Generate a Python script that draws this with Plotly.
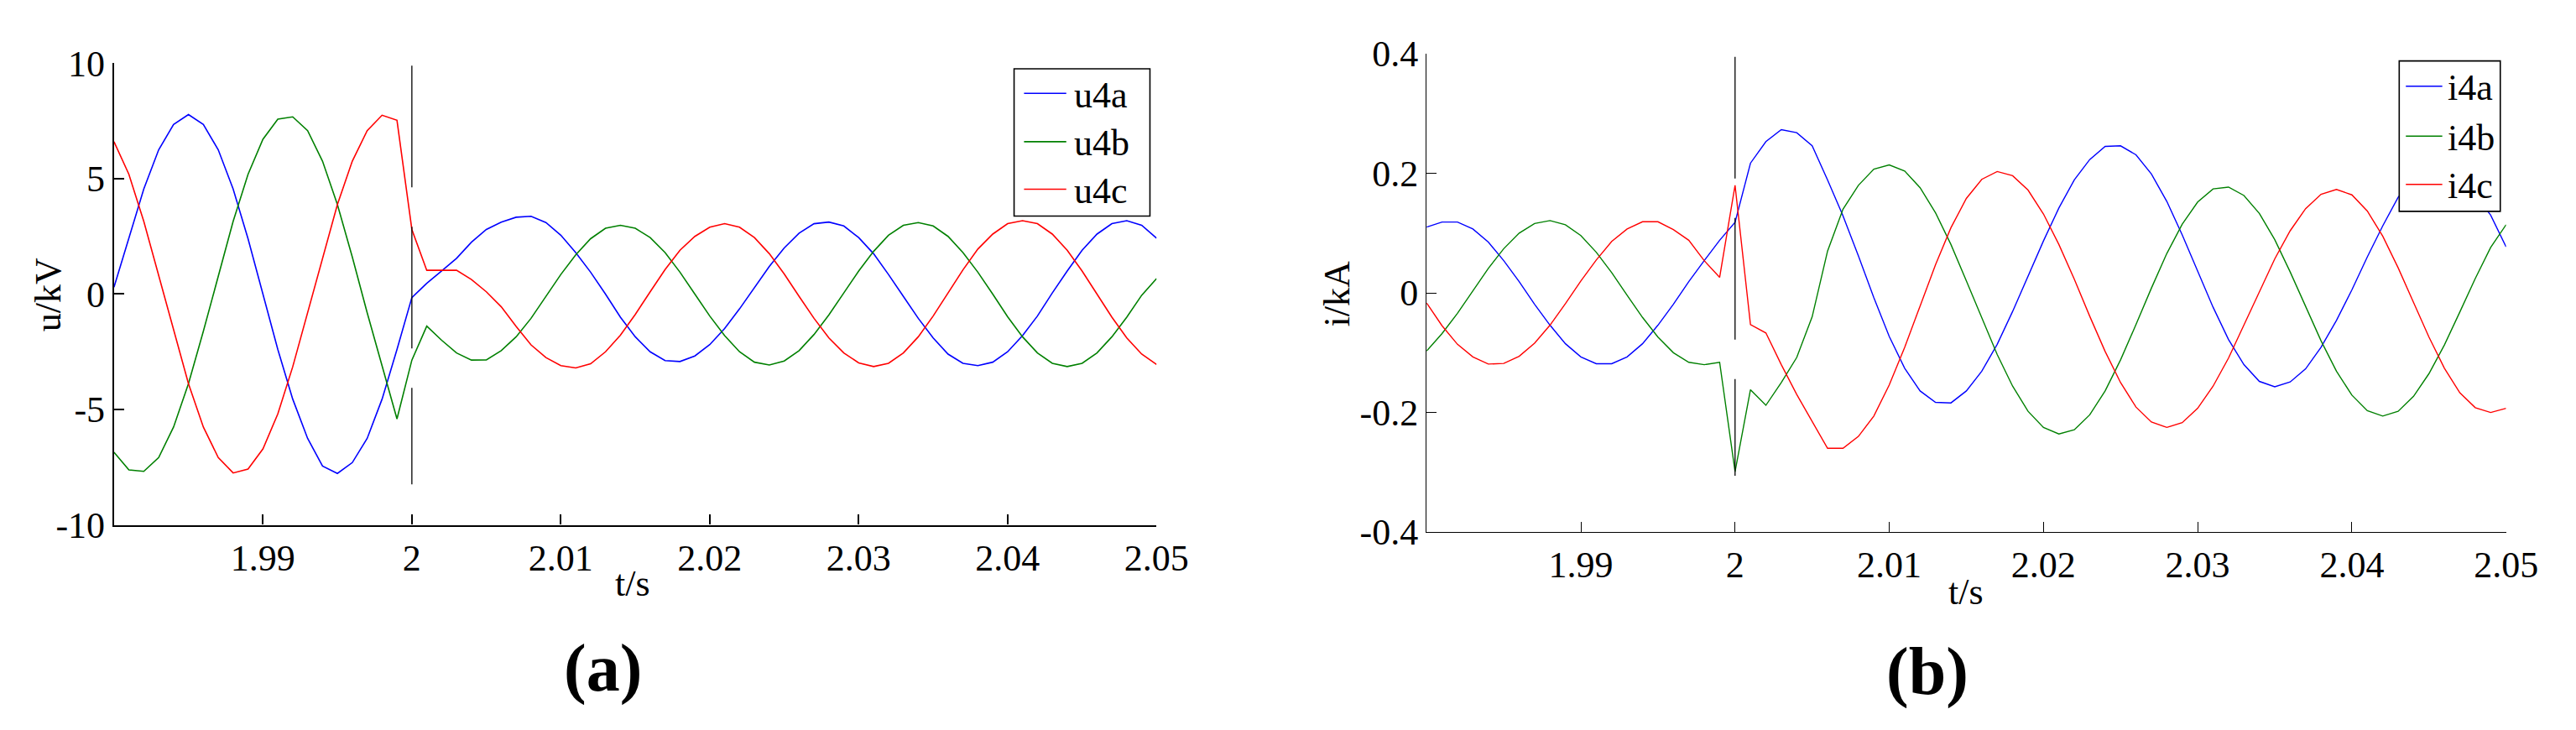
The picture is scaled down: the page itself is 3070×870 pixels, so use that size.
import plotly.graph_objects as go

# time axis, s (1 ms sampling)
t = [1.980, 1.981, 1.982, 1.983, 1.984, 1.985, 1.986, 1.987, 1.988, 1.989,
     1.990, 1.991, 1.992, 1.993, 1.994, 1.995, 1.996, 1.997, 1.998, 1.999,
     2.000, 2.001, 2.002, 2.003, 2.004, 2.005, 2.006, 2.007, 2.008, 2.009,
     2.010, 2.011, 2.012, 2.013, 2.014, 2.015, 2.016, 2.017, 2.018, 2.019,
     2.020, 2.021, 2.022, 2.023, 2.024, 2.025, 2.026, 2.027, 2.028, 2.029,
     2.030, 2.031, 2.032, 2.033, 2.034, 2.035, 2.036, 2.037, 2.038, 2.039,
     2.040, 2.041, 2.042, 2.043, 2.044, 2.045, 2.046, 2.047, 2.048, 2.049,
     2.050]

# (a) voltages, kV
u4a = [0.3, 2.45, 4.55, 6.25, 7.35, 7.78, 7.35, 6.25, 4.55, 2.4,
       0.0, -2.4, -4.55, -6.25, -7.45, -7.77, -7.3, -6.25, -4.55, -2.4,
       -0.15, 0.47, 1.0, 1.55, 2.25, 2.8, 3.12, 3.33, 3.37, 3.1,
       2.55, 1.8, 0.95, 0.0, -1.0, -1.85, -2.5, -2.88, -2.92, -2.68,
       -2.19, -1.49, -0.64, 0.29, 1.2, 2.0, 2.64, 3.05, 3.12, 2.95,
       2.45, 1.75, 0.85, -0.1, -1.05, -1.9, -2.6, -3.0, -3.1, -2.95,
       -2.5, -1.8, -0.95, 0.05, 1.0, 1.9, 2.6, 3.05, 3.18, 2.98,
       2.42]
u4b = [-6.85, -7.62, -7.68, -7.08, -5.76, -3.88, -1.61, 0.81, 3.15, 5.19,
       6.71, 7.58, 7.68, 7.08, 5.76, 3.88, 1.61, -0.81, -3.15, -5.41,
       -2.86, -1.39, -2.0, -2.55, -2.86, -2.85, -2.45, -1.85, -1.05, -0.1,
       0.85, 1.7, 2.4, 2.85, 2.98, 2.85, 2.45, 1.8, 0.95, 0.0,
       -0.95, -1.8, -2.5, -2.95, -3.07, -2.9, -2.45, -1.75, -0.9, 0.05,
       1.0, 1.85, 2.55, 2.98, 3.1, 2.95, 2.5, 1.8, 0.95, 0.0,
       -0.98, -1.85, -2.55, -3.0, -3.14, -3.0, -2.55, -1.85, -1.0, -0.05,
       0.67]
u4c = [6.6, 5.19, 3.15, 0.81, -1.61, -3.88, -5.76, -7.08, -7.75, -7.58,
       -6.71, -5.19, -3.15, -0.81, 1.61, 3.88, 5.76, 7.08, 7.75, 7.53,
       2.8, 1.03, 1.03, 1.03, 0.63, 0.1, -0.55, -1.4, -2.2, -2.75,
       -3.1, -3.2, -3.02, -2.5, -1.78, -0.88, 0.1, 1.06, 1.9, 2.5,
       2.9, 3.05, 2.9, 2.45, 1.75, 0.87, -0.1, -1.05, -1.9, -2.55,
       -2.98, -3.14, -3.0, -2.55, -1.85, -0.95, 0.05, 1.05, 1.95, 2.6,
       3.05, 3.18, 3.05, 2.6, 1.9, 1.0, 0.0, -1.0, -1.9, -2.6,
       -3.05]

# (b) currents, kA
i4a = [0.11, 0.1185, 0.1185, 0.107, 0.085, 0.054, 0.019, -0.019, -0.054, -0.085,
       -0.107, -0.1185, -0.1185, -0.107, -0.085, -0.054, -0.019, 0.019, 0.054, 0.088,
       0.118, 0.217, 0.253, 0.273, 0.268, 0.246, 0.189, 0.129, 0.062, -0.008,
       -0.073, -0.126, -0.164, -0.183, -0.184, -0.164, -0.131, -0.086, -0.031, 0.028,
       0.087, 0.142, 0.189, 0.223, 0.245, 0.246, 0.231, 0.199, 0.153, 0.097,
       0.036, -0.024, -0.078, -0.120, -0.148, -0.157, -0.149, -0.127, -0.091, -0.046,
       0.005, 0.06, 0.112, 0.16, 0.19, 0.205, 0.205, 0.19, 0.165, 0.13,
       0.077]
i4b = [-0.097, -0.068, -0.034, 0.004, 0.041, 0.074, 0.100, 0.116, 0.121, 0.114,
       0.096, 0.068, 0.034, -0.004, -0.041, -0.074, -0.100, -0.116, -0.12, -0.116,
       -0.299, -0.162, -0.188, -0.15, -0.108, -0.04, 0.07, 0.14, 0.18, 0.207,
       0.214, 0.204, 0.176, 0.134, 0.081, 0.020, -0.042, -0.103, -0.156, -0.198,
       -0.225, -0.236, -0.229, -0.204, -0.164, -0.112, -0.053, 0.008, 0.066, 0.115,
       0.152, 0.174, 0.177, 0.163, 0.133, 0.089, 0.035, -0.023, -0.080, -0.131,
       -0.171, -0.197, -0.206, -0.198, -0.173, -0.135, -0.087, -0.032, 0.024, 0.076,
       0.114]
i4c = [-0.017, -0.055, -0.086, -0.107, -0.119, -0.118, -0.106, -0.084, -0.054, -0.018,
       0.020, 0.055, 0.086, 0.107, 0.119, 0.119, 0.106, 0.088, 0.054, 0.026,
       0.180, -0.053, -0.067, -0.12, -0.17, -0.215, -0.26, -0.26, -0.240, -0.206,
       -0.154, -0.091, -0.022, 0.047, 0.109, 0.158, 0.190, 0.203, 0.196, 0.172,
       0.132, 0.081, 0.023, -0.039, -0.098, -0.150, -0.191, -0.216, -0.225, -0.217,
       -0.193, -0.156, -0.109, -0.054, 0.002, 0.057, 0.104, 0.141, 0.165, 0.173,
       0.164, 0.137, 0.095, 0.042, -0.016, -0.074, -0.126, -0.167, -0.192, -0.2,
       -0.193]

x_ticks = [1.99, 2.00, 2.01, 2.02, 2.03, 2.04, 2.05]
x_ticktext = ["1.99", "2", "2.01", "2.02", "2.03", "2.04", "2.05"]
ya_ticks = [-10, -5, 0, 5, 10]
ya_ticktext = ["-10", "-5", "0", "5", "10"]
yb_ticks = [-0.4, -0.2, 0, 0.2, 0.4]
yb_ticktext = ["-0.4", "-0.2", "0", "0.2", "0.4"]

# fault instant marker (t, y-top, y-bottom)
mark_a = (2.0, 9.9, -8.24)
mark_b = (2.0, 0.395, -0.306)

W, H = 3070, 870
FONT = "Liberation Serif, Times New Roman, serif"
colors = ["#0000ff", "#008000", "#ff0000"]


def px(x):
    return x / W


def py(y):
    return 1 - y / H


fig = go.Figure()
for ys, name, c in zip([u4a, u4b, u4c], ["u4a", "u4b", "u4c"], colors):
    fig.add_trace(go.Scatter(x=t, y=ys, name=name, mode="lines",
                             line=dict(color=c, width=1.6),
                             xaxis="x", yaxis="y", showlegend=False))
for ys, name, c in zip([i4a, i4b, i4c], ["i4a", "i4b", "i4c"], colors):
    fig.add_trace(go.Scatter(x=t, y=ys, name=name, mode="lines",
                             line=dict(color=c, width=1.4),
                             xaxis="x2", yaxis="y2", showlegend=False))

axis_common = dict(ticks="inside", ticklen=12, tickcolor="black",
                   showline=True, linecolor="black", showgrid=False,
                   zeroline=False, mirror=False,
                   tickfont=dict(family=FONT, size=44, color="black"))

fig.update_layout(
    width=W, height=H, autosize=False,
    margin=dict(l=0, r=0, t=0, b=0),
    paper_bgcolor="white", plot_bgcolor="white",
    showlegend=False,
    font=dict(family=FONT, color="black"),
    xaxis=dict(domain=[px(129.5), px(1388)], range=[1.98, 2.05],
               tickvals=x_ticks, ticktext=x_ticktext, anchor="y",
               linewidth=2.2, tickwidth=1.6, **axis_common),
    yaxis=dict(domain=[py(629), py(46)], range=[-10, 10],
               tickvals=ya_ticks, ticktext=ya_ticktext, anchor="x",
               linewidth=2, tickwidth=1.6, **axis_common),
    xaxis2=dict(domain=[px(1714), px(3017)], range=[1.98, 2.05],
                tickvals=x_ticks, ticktext=x_ticktext, anchor="y2",
                linewidth=1.3, tickwidth=1.3, **axis_common),
    yaxis2=dict(domain=[py(638), py(34)], range=[-0.4, 0.4],
                tickvals=yb_ticks, ticktext=yb_ticktext, anchor="x2",
                linewidth=1.3, tickwidth=1.3, **axis_common),
)

# dashed vertical marker at the fault instant
for (tx, y0, y1), xr, yr in [(mark_a, "x", "y"), (mark_b, "x2", "y2")]:
    fig.add_shape(type="line", xref=xr, yref=yr, x0=tx, x1=tx, y0=y0, y1=y1,
                  line=dict(color="black", width=1.3, dash="145px,47px"))

# legends drawn as boxes (MATLAB style)
legends = [
    dict(box=(1216, 53, 1380, 239), line=(1228, 1279), text_x=1286,
         rows=[84, 145, 205], names=["u4a", "u4b", "u4c"]),
    dict(box=(2888, 43, 3010, 233), line=(2896, 2940), text_x=2944,
         rows=[75, 138, 199], names=["i4a", "i4b", "i4c"]),
]
for lg in legends:
    x0, y0, x1, y1 = lg["box"]
    fig.add_shape(type="rect", xref="paper", yref="paper",
                  x0=px(x0), x1=px(x1), y0=py(y1), y1=py(y0),
                  line=dict(color="black", width=1.6), fillcolor="white")
    for row, name, c in zip(lg["rows"], lg["names"], colors):
        fig.add_shape(type="line", xref="paper", yref="paper",
                      x0=px(lg["line"][0]), x1=px(lg["line"][1]),
                      y0=py(row), y1=py(row), line=dict(color=c, width=1.6))
        fig.add_annotation(x=px(lg["text_x"]), y=py(row + 2), xref="paper", yref="paper",
                           text=name, showarrow=False, xanchor="left", yanchor="middle",
                           font=dict(family=FONT, size=44, color="black"))

# axis titles and panel labels
labels = [
    ("u/kV", 51, 338, -90, 44, "normal"),
    ("t/s", 756, 703, 0, 44, "normal"),
    ("i/kA", 1606, 338, -90, 44, "normal"),
    ("t/s", 2365, 714, 0, 44, "normal"),
    ("(a)", 720, 810, 0, 80, "bold"),
    ("(b)", 2318, 814, 0, 80, "bold"),
]
for txt, x, y, ang, size, weight in labels:
    fig.add_annotation(x=px(x), y=py(y), xref="paper", yref="paper", text=txt,
                       showarrow=False, textangle=ang, xanchor="center", yanchor="middle",
                       font=dict(family=FONT, size=size, color="black", weight=weight))

fig.write_html("out.html")
